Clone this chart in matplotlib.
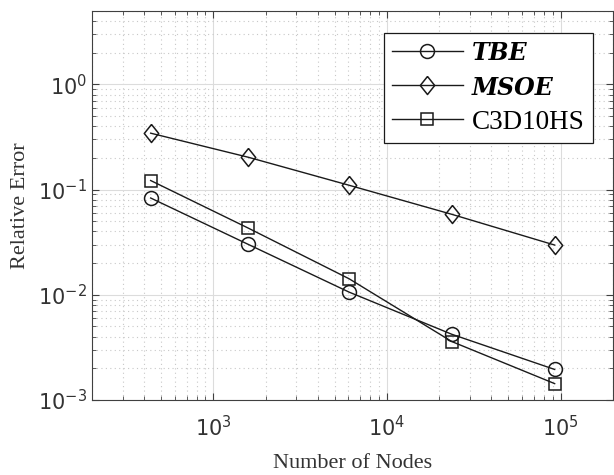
import matplotlib.pyplot as plt
from matplotlib.ticker import LogLocator, LogFormatterMathtext, NullFormatter

nodes = [435, 1590, 6050, 23650, 92500]
tbe_err = [0.0832, 0.0301, 0.0106, 0.00421, 0.00195]
msoe_err = [0.344, 0.203, 0.110, 0.0582, 0.0297]
c3d_err = [0.122, 0.043, 0.0142, 0.00359, 0.00143]
labels = ["TBE", "MSOE", "C3D10HS"]

plt.rcParams["mathtext.fontset"] = "custom"
plt.rcParams["mathtext.rm"] = "Liberation Sans"
plt.rcParams["mathtext.default"] = "regular"

diamond = [(0, 1), (0.8, 0), (0, -1), (-0.8, 0), (0, 1)]

fig = plt.figure(figsize=(6.14, 4.75), dpi=100)
ax = fig.add_axes([0.150, 0.158, 0.848, 0.819])

col = "#1a1a1a"
ax.plot(nodes, tbe_err, color=col, lw=1, marker="o", ms=10, mfc="none", mec=col, mew=1.1, label=labels[0])
ax.plot(nodes, msoe_err, color=col, lw=1, marker=diamond, ms=13, mfc="none", mec=col, mew=1.1, label=labels[1])
ax.plot(nodes, c3d_err, color=col, lw=1, marker="s", ms=8.5, mfc="none", mec=col, mew=1.1, label=labels[2])

ax.set_xscale("log")
ax.set_yscale("log")
ax.set_xlim(200, 2e5)
ax.set_ylim(1e-3, 5)

ax.xaxis.set_major_locator(LogLocator(base=10, numticks=10))
ax.yaxis.set_major_locator(LogLocator(base=10, numticks=10))
ax.xaxis.set_minor_locator(LogLocator(base=10, subs=range(2, 10), numticks=20))
ax.yaxis.set_minor_locator(LogLocator(base=10, subs=range(2, 10), numticks=20))
ax.xaxis.set_major_formatter(LogFormatterMathtext())
ax.yaxis.set_major_formatter(LogFormatterMathtext())
ax.xaxis.set_minor_formatter(NullFormatter())
ax.yaxis.set_minor_formatter(NullFormatter())

ax.grid(True, which="major", color="#dcdcdc", lw=0.8)
ax.grid(True, which="minor", color="#c8c8c8", lw=0.8, ls=(0, (1, 3)))
ax.set_axisbelow(True)

ax.tick_params(which="both", direction="in", top=True, right=True, colors="#404040",
               labelcolor="#333333", labelsize=15)
ax.tick_params(which="major", length=5, width=0.8)
ax.tick_params(which="minor", length=3, width=0.6)
ax.tick_params(axis="x", pad=11)
for s in ax.spines.values():
    s.set_color("#404040")
    s.set_linewidth(0.8)

ax.set_xlabel("Number of Nodes", fontname="Liberation Serif", fontsize=16, color="#333333", labelpad=10)
ax.set_ylabel("Relative Error", fontname="Liberation Serif", fontsize=16, color="#333333", labelpad=6)

leg = ax.legend(loc="upper right", bbox_to_anchor=(0.962, 0.943), fancybox=False, edgecolor="#1a1a1a",
                framealpha=1, handlelength=2.6, borderpad=0.3, labelspacing=0.38, handletextpad=0.35,
                borderaxespad=0, prop={"family": "Liberation Serif", "size": 19.5})
leg.get_frame().set_linewidth(0.9)
for t in leg.get_texts()[:2]:
    t.set_fontfamily("DejaVu Serif")
    t.set_fontweight("bold")
    t.set_fontstyle("italic")
    t.set_fontsize(17)

plt.savefig("out.png", dpi=100)
